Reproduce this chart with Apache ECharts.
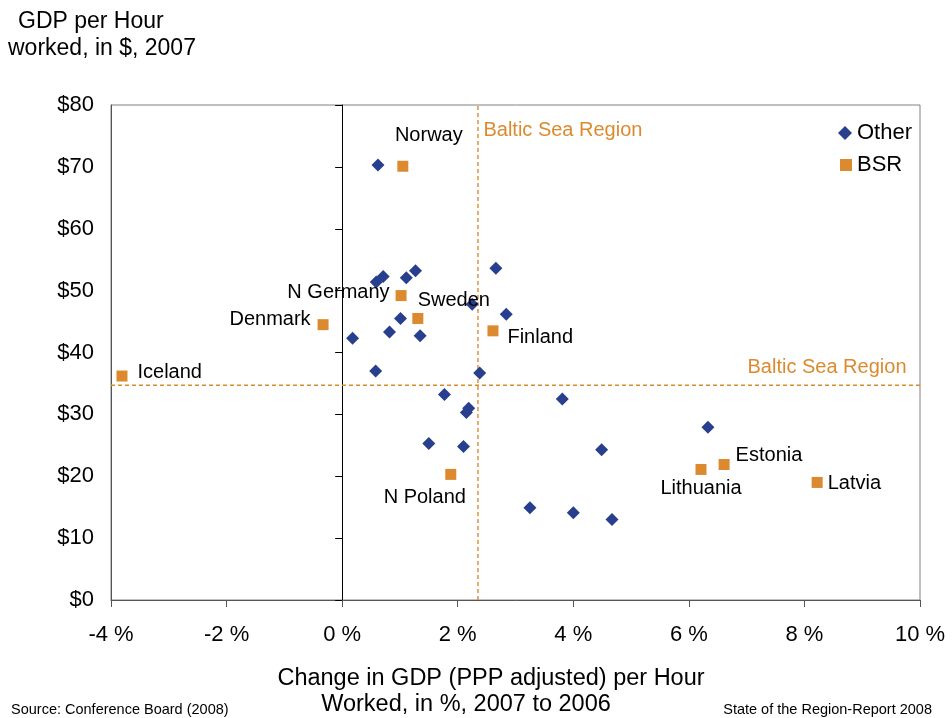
<!DOCTYPE html>
<html>
<head>
<meta charset="utf-8">
<script src="https://cdn.jsdelivr.net/npm/echarts@6/dist/echarts.min.js"></script>
<style>
  html, body { margin: 0; padding: 0; background: #fff; }
  #chart { width: 952px; height: 718px; }
</style>
</head>
<body>
<div id="chart"></div>
<script>
// ---- Data ----
const otherX = [0.62, 0.71, 0.59, 1.11, 1.27, 2.66, 2.25, 2.84, 1.01, 0.82, 1.35, 0.18, 0.58, 2.38,
                1.77, 2.19, 2.15, 1.50, 2.10, 3.81, 6.33, 4.49, 3.25, 4.00, 4.67];
const otherY = [70.3, 52.3, 51.4, 52.1, 53.2, 53.6, 47.8, 46.2, 45.5, 43.3, 42.7, 42.3, 37.0, 36.7,
                33.2, 31.0, 30.3, 25.3, 24.8, 32.5, 27.9, 24.3, 14.9, 14.1, 13.0];

const bsrNames = ['Norway', 'N Germany', 'Sweden', 'Denmark', 'Iceland', 'Finland', 'N Poland', 'Estonia', 'Lithuania', 'Latvia'];
const bsrX = [1.05, 1.02, 1.31, -0.33, -3.81, 2.61, 1.88, 6.61, 6.21, 8.22];
const bsrY = [70.1, 49.2, 45.5, 44.5, 36.2, 43.5, 20.3, 21.9, 21.1, 19.0];

const bsrRefX = 2.35;   // Baltic Sea Region average change
const bsrRefY = 34.7;   // Baltic Sea Region average GDP per hour
const refLabel = 'Baltic Sea Region';

const xTicks = [-4, -2, 0, 2, 4, 6, 8, 10];
const yTicks = [0, 10, 20, 30, 40, 50, 60, 70, 80];

const seriesNames = ['Other', 'BSR'];

// ---- Styles (label placement per country) ----
const labelPlacement = {
  'Norway':    { position: 'top',    offset: [26, -10] },
  'N Germany': { position: 'left',   offset: [-1, -3] },
  'Sweden':    { position: 'top',    offset: [36, 3] },
  'Denmark':   { position: 'left',   offset: [-2, -5] },
  'Iceland':   { position: 'right',  offset: [5, -4] },
  'Finland':   { position: 'right',  offset: [4, 7] },
  'N Poland':  { position: 'bottom', offset: [-26, 3] },
  'Estonia':   { position: 'right',  offset: [1, -9] },
  'Lithuania': { position: 'bottom', offset: [0, -1] },
  'Latvia':    { position: 'right',  offset: [0, 1] }
};

const BLUE = '#283F8E';
const ORANGE = '#DC8A2F';
const FONT = 'Liberation Sans, Arial, sans-serif';

const chart = echarts.init(document.getElementById('chart'), null, { renderer: 'canvas' });

const xMin = xTicks[0], xMax = xTicks[xTicks.length - 1];
const yMin = yTicks[0], yMax = yTicks[yTicks.length - 1];

const otherData = otherX.map((x, i) => [x, otherY[i]]);
const bsrData = bsrNames.map((n, i) => ({
  name: n,
  value: [bsrX[i], bsrY[i]],
  label: Object.assign({ show: true, formatter: '{b}', color: '#000', fontSize: 20, fontFamily: FONT, distance: 5 }, labelPlacement[n])
}));

const refLine = { color: ORANGE, type: [4, 3], width: 1.4, opacity: 1 };

const option = {
  backgroundColor: '#fff',
  animation: false,
  textStyle: { fontFamily: FONT },
  grid: { left: 111, right: 32, top: 105, bottom: 118, show: true, borderColor: '#808080', borderWidth: 1 },
  legend: [
    { data: [{ name: seriesNames[0], icon: 'diamond' }], left: 833, top: 117, itemWidth: 14, itemHeight: 14,
      textStyle: { fontSize: 22, color: '#000', fontFamily: FONT }, selectedMode: false },
    { data: [{ name: seriesNames[1], icon: 'rect' }], left: 835, top: 149, itemWidth: 12, itemHeight: 12,
      textStyle: { fontSize: 22, color: '#000', fontFamily: FONT }, selectedMode: false }
  ],
  xAxis: {
    type: 'value', min: xMin, max: xMax, interval: 2,
    axisLine: { show: true, onZero: true, lineStyle: { color: '#555', width: 1 } },
    axisTick: { show: true, length: 7, lineStyle: { color: '#555' } },
    axisLabel: { formatter: v => v + ' %', fontSize: 22, color: '#000', margin: 24, fontFamily: FONT },
    splitLine: { show: false }
  },
  yAxis: [
    {
      type: 'value', min: yMin, max: yMax, interval: 10, position: 'left',
      axisLine: { show: true, onZero: false, lineStyle: { color: '#555', width: 1 } },
      axisTick: { show: false },
      axisLabel: { formatter: v => '$' + v, fontSize: 22, color: '#000', margin: 17, fontFamily: FONT },
      splitLine: { show: false }
    },
    {
      type: 'value', min: yMin, max: yMax, interval: 10, position: 'left',
      axisLine: { show: true, onZero: true, lineStyle: { color: '#000', width: 1 } },
      axisTick: { show: true, inside: false, length: 7, lineStyle: { color: '#000' } },
      axisLabel: { show: false },
      splitLine: { show: false }
    }
  ],
  series: [
    {
      name: 'refV', type: 'line', silent: true, symbol: 'none', z: 2,
      lineStyle: refLine, data: [[bsrRefX, yMin], [bsrRefX, yMax]],
      markPoint: {
        silent: true, symbol: 'circle', symbolSize: 1, itemStyle: { color: 'rgba(0,0,0,0)' },
        data: [
          { coord: [bsrRefX, yMax], value: refLabel,
            label: { show: true, formatter: refLabel, position: 'right', offset: [0, 25], color: ORANGE, fontSize: 20, fontFamily: FONT } }
        ]
      }
    },
    {
      name: 'refH', type: 'line', silent: true, symbol: 'none', z: 2,
      lineStyle: refLine, data: [[xMin, bsrRefY], [xMax, bsrRefY]],
      markPoint: {
        silent: true, symbol: 'circle', symbolSize: 1, itemStyle: { color: 'rgba(0,0,0,0)' },
        data: [
          { coord: [xMax, bsrRefY], value: refLabel,
            label: { show: true, formatter: refLabel, position: 'left', offset: [-8, -18], color: ORANGE, fontSize: 20, fontFamily: FONT } }
        ]
      }
    },
    {
      name: seriesNames[0], type: 'scatter', symbol: 'diamond', symbolSize: 13,
      itemStyle: { color: BLUE, opacity: 1 }, data: otherData, z: 3
    },
    {
      name: seriesNames[1], type: 'scatter', symbol: 'rect', symbolSize: 11,
      itemStyle: { color: ORANGE, opacity: 1 }, data: bsrData, z: 4
    }
  ],
  graphic: [
    { type: 'text', left: 18, top: 10, style: { text: 'GDP per Hour', font: '23px ' + FONT, fill: '#000' } },
    { type: 'text', left: 8, top: 37, style: { text: 'worked, in $, 2007', font: '23px ' + FONT, fill: '#000' } },
    { type: 'text', x: 491, y: 679, style: { text: 'Change in GDP (PPP adjusted) per Hour', font: '23.5px ' + FONT, fill: '#000', textAlign: 'center', textVerticalAlign: 'middle' } },
    { type: 'text', x: 466, y: 705, style: { text: 'Worked, in %, 2007 to 2006', font: '23.5px ' + FONT, fill: '#000', textAlign: 'center', textVerticalAlign: 'middle' } },
    { type: 'text', x: 11, y: 710, style: { text: 'Source: Conference Board (2008)', font: '14.5px ' + FONT, fill: '#000', textAlign: 'left', textVerticalAlign: 'middle' } },
    { type: 'text', x: 932, y: 710, style: { text: 'State of the Region-Report 2008', font: '14.5px ' + FONT, fill: '#000', textAlign: 'right', textVerticalAlign: 'middle' } }
  ]
};

chart.setOption(option);
</script>
</body>
</html>
